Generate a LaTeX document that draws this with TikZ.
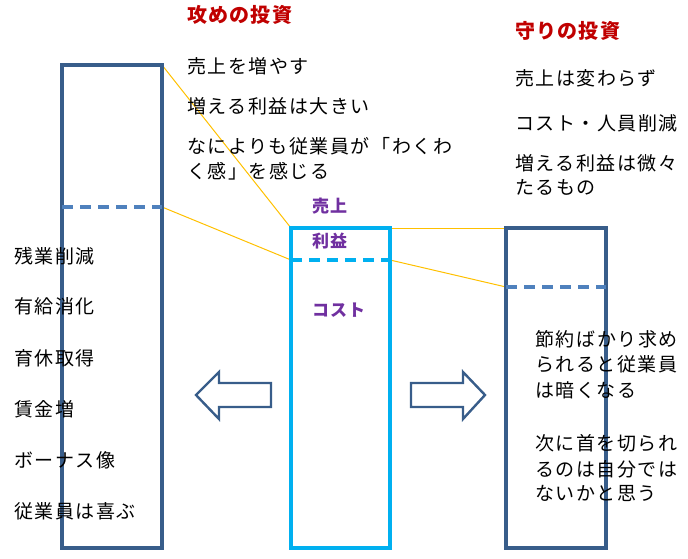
\documentclass[tikz,border=0pt]{standalone}
\usepackage{fontspec}
\setmainfont{Noto Sans CJK JP}[LetterSpace=8]
\newfontfamily\jpbold{Noto Sans CJK JP}[LetterSpace=6]
\definecolor{boxblue}{HTML}{385D8A}
\definecolor{dashblue}{HTML}{4F81BD}
\definecolor{cyanbox}{HTML}{00B0F0}
\definecolor{titlered}{HTML}{C00000}
\definecolor{labpurple}{HTML}{7030A0}
\definecolor{linkyellow}{HTML}{FFC000}
\tikzset{
  txt/.style={anchor=west,inner sep=0pt,font=\fontsize{19}{20}\selectfont,text height=0.88em,text depth=0.12em},
  ttl/.style={txt,text=titlered,font=\jpbold\fontsize{20}{22}\selectfont\bfseries},
  lab/.style={txt,text=labpurple,font=\jpbold\fontsize{17}{18}\selectfont\bfseries},
  bigbox/.style={draw=boxblue,line width=3.4pt},
  midbox/.style={draw=cyanbox,line width=3.6pt},
  split/.style={draw=dashblue,line width=3.4pt,dash pattern=on 11pt off 7pt},
  splitc/.style={draw=cyanbox,line width=3.6pt,dash pattern=on 11pt off 7pt},
  link/.style={draw=linkyellow,line width=1pt},
  fatarrow/.style={draw=boxblue,line width=2.4pt,line join=miter}
}
\begin{document}
\begin{tikzpicture}[x=1pt,y=-1pt]
\useasboundingbox (0,0) rectangle (688,559);
% corners
\coordinate (LTL) at (62,65);  \coordinate (LTR) at (162,65);
\coordinate (LBL) at (62,548); \coordinate (LBR) at (162,548);
\coordinate (LDL) at (62,207); \coordinate (LDR) at (162,207);
\coordinate (CTL) at (291,228); \coordinate (CTR) at (390,228);
\coordinate (CBL) at (291,548); \coordinate (CBR) at (390,548);
\coordinate (CDL) at (291,260); \coordinate (CDR) at (390,260);
\coordinate (RTL) at (506,228); \coordinate (RTR) at (606,228);
\coordinate (RBL) at (506,548); \coordinate (RBR) at (606,548);
\coordinate (RDL) at (506,287); \coordinate (RDR) at (606,287);
% yellow links
\draw[link] (LTR) -- (CTL);
\draw[link] (LDR) -- (CDL);
\draw[link] (CTR) -- (RTL);
\draw[link] (CDR) -- (RDL);
% boxes
\draw[bigbox] (LTL) rectangle (LBR);
\draw[split] (LDL) -- (LDR);
\draw[midbox] (CTL) rectangle (CBR);
\draw[splitc] (CDL) -- (CDR);
\draw[bigbox] (RTL) rectangle (RBR);
\draw[split] (RDL) -- (RDR);
% arrows
\draw[fatarrow] (196,395) -- (219,372) -- (219,383) -- (271,383) -- (271,407) -- (219,407) -- (219,419) -- cycle;
\draw[fatarrow] (485,395) -- (463,372) -- (463,383) -- (411,383) -- (411,407) -- (463,407) -- (463,419) -- cycle;
% titles
\node[ttl] (t1) at (187,19) {攻めの投資};
\node[ttl] (t2) at (515,35) {守りの投資};
% left top texts
\node[txt] (a1) at (187,70) {売上を増やす};
\node[txt] (a2) at (187,110) {増える利益は大きい};
\node[txt] (a3) at (187,150) {なによりも従業員が「わくわ};
\node[txt] (a4) at (187,175) {く感」を感じる};
% right top texts
\node[txt] (b1) at (515,82) {売上は変わらず};
\node[txt] (b2) at (515,127) {コスト・人員削減};
\node[txt] (b3) at (515,167) {増える利益は微々};
\node[txt] (b4) at (515,191) {たるもの};
% center labels
\node[lab] (c1) at (312,209) {売上};
\node[lab] (c2) at (312,244) {利益};
\node[lab] (c3) at (312,313) {コスト};
% left list
\node[txt] (l1) at (14,260) {残業削減};
\node[txt] (l2) at (14,310) {有給消化};
\node[txt] (l3) at (14,362) {育休取得};
\node[txt] (l4) at (14,413) {賃金増};
\node[txt] (l5) at (14,464) {ボーナス像};
\node[txt] (l6) at (14,515) {従業員は喜ぶ};
% right bottom texts
\node[txt] (r1) at (535,343) {節約ばかり求め};
\node[txt] (r2) at (535,368) {られると従業員};
\node[txt] (r3) at (535,394) {は暗くなる};
\node[txt] (r4) at (535,447) {次に首を切られ};
\node[txt] (r5) at (535,473) {るのは自分では};
\node[txt] (r6) at (535,497) {ないかと思う};
\end{tikzpicture}
\end{document}
